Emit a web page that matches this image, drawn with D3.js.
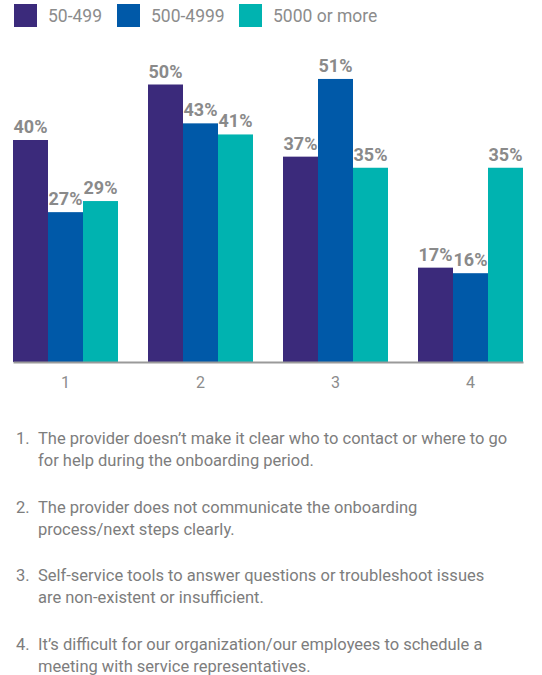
<!DOCTYPE html>
<html>
<head>
    <meta charset="utf-8">
    <title>Onboarding issues by company size</title>
    <script src="https://d3js.org/d3.v7.min.js"></script>
    <style>
        body { margin: 0; background: #fff; }
        text { font-family: Roboto, "Noto Sans", sans-serif; }
    </style>
</head>
<body>
<svg id="chart" width="542" height="675"></svg>

<script>
    // datos
    const categorias = ["1", "2", "3", "4"];
    const series = ["50-499", "500-4999", "5000 or more"];
    const valores50 = [40, 50, 37, 17];
    const valores500 = [27, 43, 51, 16];
    const valores5000 = [29, 41, 35, 35];
    const notas = [
        ["1.", "The provider doesn\u2019t make it clear who to contact or where to go", "for help during the onboarding period."],
        ["2.", "The provider does not communicate the onboarding", "process/next steps clearly."],
        ["3.", "Self-service tools to answer questions or troubleshoot issues", "are non-existent or insufficient."],
        ["4.", "It\u2019s difficult for our organization/our employees to schedule a", "meeting with service representatives."]
    ];

    const colores = ["#3b2a7b", "#0059a8", "#00b3b0"];
    const valores = [valores50, valores500, valores5000];

    const svg = d3.select("#chart");
    const baseY = 362;

    const x = d3.scaleBand()
        .domain(categorias)
        .range([13, 523])
        .paddingInner(30 / 135)
        .paddingOuter(0);

    const xs = d3.scaleBand()
        .domain(series)
        .range([0, x.bandwidth()]);

    const y = d3.scaleLinear()
        .domain([0, 60])
        .range([baseY, baseY - 60 * 5.55]);

    // leyenda
    const leyenda = svg.append("g");
    const posLeyenda = [14, 117, 239];
    series.forEach((s, i) => {
        leyenda.append("rect")
            .attr("x", posLeyenda[i]).attr("y", 4)
            .attr("width", 23).attr("height", 23)
            .attr("fill", colores[i]);
        leyenda.append("text")
            .attr("x", posLeyenda[i] + 34).attr("y", 22)
            .attr("font-size", 17.5)
            .attr("fill", "#8c8c8c")
            .text(s);
    });

    // barras
    const datos = [];
    categorias.forEach((c, ci) => {
        series.forEach((s, si) => {
            datos.push({ cat: c, serie: s, valor: valores[si][ci], color: colores[si] });
        });
    });

    svg.append("g").selectAll("rect")
        .data(datos)
        .join("rect")
        .attr("x", d => x(d.cat) + xs(d.serie))
        .attr("y", d => y(d.valor))
        .attr("width", xs.bandwidth())
        .attr("height", d => baseY - y(d.valor))
        .attr("fill", d => d.color);

    svg.append("g").selectAll("text")
        .data(datos)
        .join("text")
        .attr("x", d => x(d.cat) + xs(d.serie) + xs.bandwidth() / 2)
        .attr("y", d => y(d.valor) - 7)
        .attr("text-anchor", "middle")
        .attr("font-size", 18)
        .attr("font-weight", "bold")
        .attr("fill", "#8a8a8a")
        .text(d => d.valor + "%");

    // eje x
    const eje = svg.append("g")
        .attr("transform", `translate(0,${baseY})`)
        .call(d3.axisBottom(x).tickSize(0).tickPadding(15));
    eje.select(".domain").attr("stroke", "#9a9a9a").attr("stroke-width", 2);
    eje.selectAll(".tick text")
        .attr("font-size", 16)
        .attr("fill", "#8c8c8c")
        .style("font-family", "Roboto, sans-serif");

    // notas al pie
    const notasG = svg.append("g");
    notas.forEach((n, i) => {
        const y0 = 444 + i * 68.5;
        notasG.append("text").attr("x", 16).attr("y", y0)
            .attr("font-size", 16.5).attr("fill", "#7d7d7d").text(n[0]);
        notasG.append("text").attr("x", 38).attr("y", y0)
            .attr("font-size", 16.5).attr("fill", "#7d7d7d").text(n[1]);
        notasG.append("text").attr("x", 38).attr("y", y0 + 22)
            .attr("font-size", 16.5).attr("fill", "#7d7d7d").text(n[2]);
    });
</script>
</body>
</html>
